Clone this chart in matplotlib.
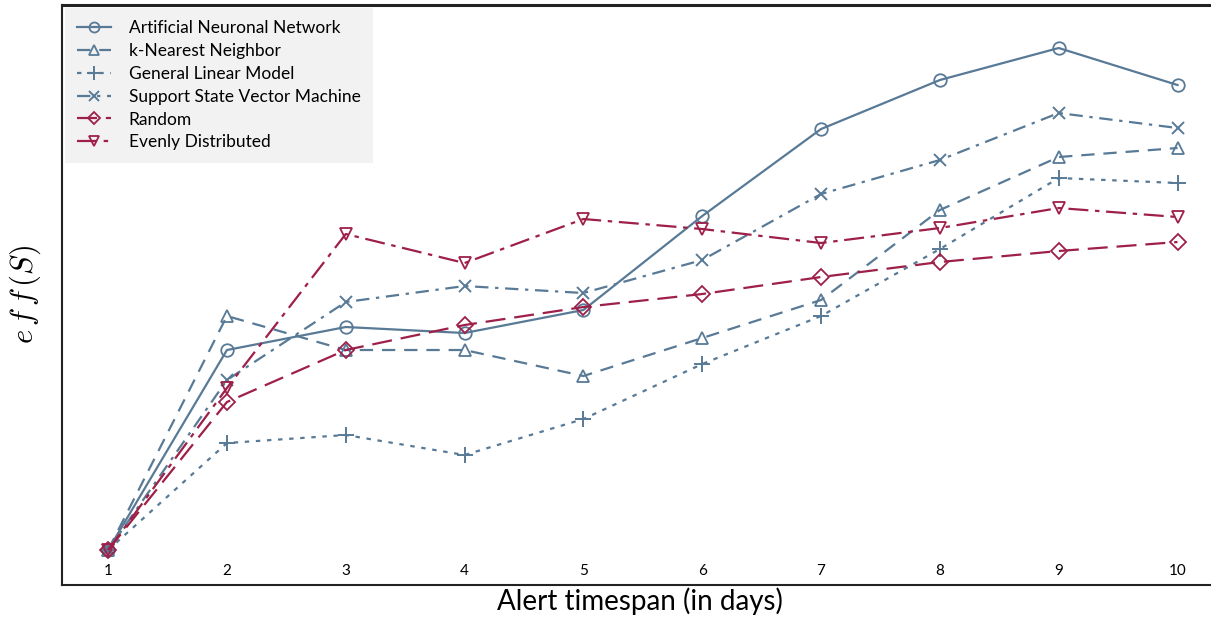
import matplotlib
matplotlib.use("Agg")
from matplotlib import pyplot as plt

# alert timespan in days
days = [1, 2, 3, 4, 5, 6, 7, 8, 9, 10]

# eff(S) values (arbitrary units, no y scale shown)
ann = [0.35, 2.35, 2.58, 2.52, 2.75, 3.69, 4.56, 5.05, 5.37, 5.00]
knn = [0.35, 2.69, 2.35, 2.35, 2.09, 2.47, 2.85, 3.75, 4.28, 4.37]
glm = [0.35, 1.42, 1.50, 1.30, 1.66, 2.21, 2.69, 3.36, 4.07, 4.02]
svm = [0.35, 2.05, 2.83, 2.99, 2.92, 3.25, 3.91, 4.25, 4.72, 4.57]
rnd = [0.35, 1.83, 2.35, 2.60, 2.78, 2.91, 3.08, 3.23, 3.34, 3.43]
even = [0.35, 1.97, 3.51, 3.22, 3.66, 3.56, 3.42, 3.57, 3.77, 3.68]

labels = ["Artificial Neuronal Network", "k-Nearest Neighbor", "General Linear Model",
          "Support State Vector Machine", "Random", "Evenly Distributed"]

blue = "#587a96"
red = "#9e1f48"

plt.rcParams['font.family'] = ['Lato', 'DejaVu Sans']
plt.rcParams['mathtext.fontset'] = 'cm'

fig = plt.figure(figsize=(12.11, 6.19), dpi=100)
ax = fig.add_axes([0.0512, 0.0549, 0.955, 0.937])

common = dict(markersize=9, markeredgewidth=1.3, fillstyle='none', linewidth=1.6)
ax.plot(days, ann, color=blue, linestyle='-', marker='o', label=labels[0], **common)
ax.plot(days, knn, color=blue, linestyle=(0, (6, 4)), marker='^', label=labels[1], **common)
ax.plot(days, glm, color=blue, linestyle=(0, (2, 3)), marker='+', label=labels[2],
        markersize=12, markeredgewidth=1.4, linewidth=1.6)
ax.plot(days, svm, color=blue, linestyle=(0, (6, 3, 1.5, 3)), marker='x', label=labels[3],
        markersize=9, markeredgewidth=1.4, linewidth=1.6)
ax.plot(days, rnd, color=red, linestyle=(0, (9, 4)), marker='D', label=labels[4],
        markersize=8, markeredgewidth=1.3, fillstyle='none', linewidth=1.6)
ax.plot(days, even, color=red, linestyle=(0, (9, 3, 2, 3)), marker='v', label=labels[5], **common)

ax.set_xlim(0.612, 10.345)
ax.set_ylim(0, 5.8)
ax.set_xticks(days)
ax.set_yticks([])
ax.tick_params(axis='x', direction='in', length=0, pad=-15, labelsize=11)

for side in ['top', 'left', 'bottom']:
    ax.spines[side].set_linewidth(1.5)
    ax.spines[side].set_color('#222222')
ax.spines['top'].set_linewidth(2.2)
ax.spines['right'].set_visible(False)

ax.set_xlabel("Alert timespan (in days)", fontsize=20, labelpad=2)
ax.set_ylabel("$e\\,f\\,f\\,(S)$", fontsize=22, labelpad=14)

leg = ax.legend(loc='upper left', fontsize=12.5, frameon=True, fancybox=False,
                borderaxespad=0.15, handlelength=2.0, labelspacing=0.4, borderpad=0.7,
                markerscale=0.8, handletextpad=1.0)
leg.get_frame().set_facecolor('#f2f2f2')
leg.get_frame().set_edgecolor('none')
leg.get_frame().set_alpha(1)

plt.savefig("out.png", dpi=100)
